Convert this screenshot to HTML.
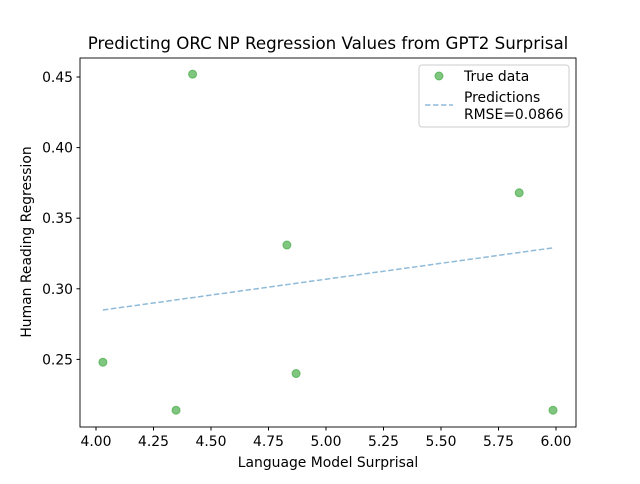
<!DOCTYPE html>
<html><head><meta charset="utf-8"><style>
body{margin:0;background:#fff;font-family:"DejaVu Sans",sans-serif}
</style></head><body>
<svg id="chart" width="640" height="480" xmlns="http://www.w3.org/2000/svg" font-family="DejaVu Sans, sans-serif">
<rect width="640" height="480" fill="#fff"/>
<text x="328" y="49" text-anchor="middle" font-size="16.7">Predicting ORC NP Regression Values from GPT2 Surprisal</text>
<g id="marks"></g>
<rect x="80" y="58" width="496" height="369" fill="none" stroke="#000" stroke-width="0.9"/>
<g id="ticks" font-size="13.9"></g>
<text x="328" y="467" text-anchor="middle" font-size="13.9">Language Model Surprisal</text>
<text transform="translate(31,242) rotate(-90)" text-anchor="middle" font-size="13.9">Human Reading Regression</text>
<g>
<rect x="419" y="65" width="150" height="62" rx="3" fill="#fff" fill-opacity="0.8" stroke="#ccc"/>
<circle cx="439" cy="76" r="4" fill="#2ca02c" fill-opacity="0.6" stroke="#2ca02c" stroke-opacity="0.6"/>
<text x="464" y="81" font-size="13.9">True data</text>
<line x1="425" y1="105" x2="453" y2="105" stroke="#1f77b4" stroke-opacity="0.5" stroke-width="1.5" stroke-dasharray="5.5,2.5"/>
<text x="464" y="102" font-size="13.9">Predictions</text>
<text x="464" y="119" font-size="13.9">RMSE=0.0866</text>
</g>
</svg>
<script>
const xValues=[4.03,4.348,4.42,4.83,4.87,5.84,5.987];
const yValues=[0.248,0.214,0.452,0.331,0.240,0.368,0.214];
const lineX=[4.03,5.987];
const lineY=[0.285,0.329];
const xTicks=[4.00,4.25,4.50,4.75,5.00,5.25,5.50,5.75,6.00];
const yTicks=[0.25,0.30,0.35,0.40,0.45];
const NS="http://www.w3.org/2000/svg";
const sx=v=>96+(v-4)*230;
const sy=v=>77+(0.45-v)*1412;
function mk(t,a,p){const e=document.createElementNS(NS,t);for(const k in a)e.setAttribute(k,a[k]);p.appendChild(e);return e;}
const marks=document.getElementById('marks'),ticks=document.getElementById('ticks');
const ln=mk('line',{x1:sx(lineX[0]),y1:sy(lineY[0]),x2:sx(lineX[1]),y2:sy(lineY[1]),stroke:'#1f77b4','stroke-opacity':0.5,'stroke-width':1.5,'stroke-dasharray':'5.5,2.5'},marks);


xValues.forEach((x,i)=>{const c=mk('circle',{cx:sx(x),cy:sy(yValues[i]),r:4,fill:'#2ca02c','fill-opacity':0.6,stroke:'#2ca02c','stroke-opacity':0.6},marks);

});
xTicks.forEach(v=>{const x=sx(v);mk('line',{x1:x,x2:x,y1:427,y2:430.5,stroke:'#000'},ticks);
const t=mk('text',{x:x,y:446,'text-anchor':'middle'},ticks);t.textContent=v.toFixed(2);

});
yTicks.forEach(v=>{const y=sy(v);mk('line',{x1:76.5,x2:80,y1:y,y2:y,stroke:'#000'},ticks);
const t=mk('text',{x:73,y:y+5,'text-anchor':'end'},ticks);t.textContent=v.toFixed(2);

});
</script>
</body></html>
